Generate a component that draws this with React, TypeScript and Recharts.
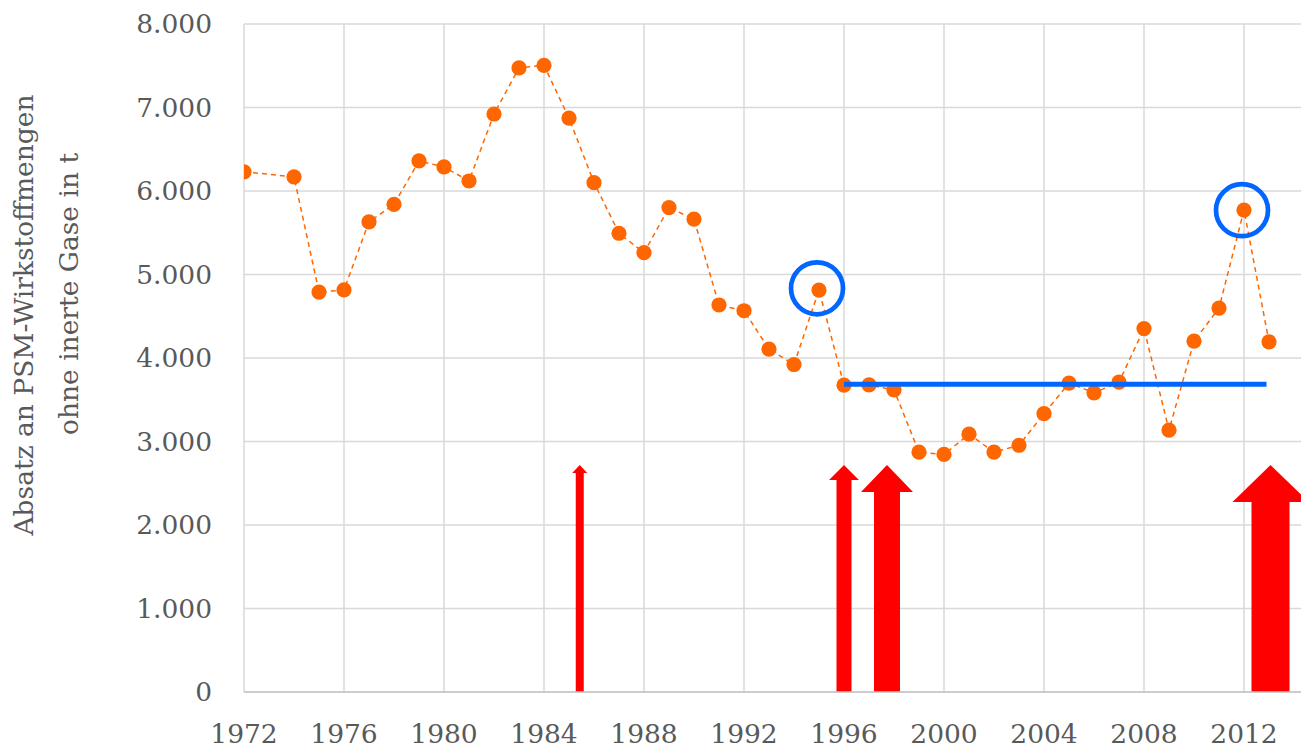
import React from 'react';
import { LineChart, Line, XAxis, YAxis, CartesianGrid, ReferenceLine, ReferenceDot } from 'recharts';

// Absatz an PSM-Wirkstoffmengen (t), 1973 fehlt
const years = [
  1972, 1974, 1975, 1976, 1977, 1978, 1979, 1980, 1981, 1982, 1983, 1984, 1985, 1986,
  1987, 1988, 1989, 1990, 1991, 1992, 1993, 1994, 1995, 1996, 1997, 1998, 1999, 2000,
  2001, 2002, 2003, 2004, 2005, 2006, 2007, 2008, 2009, 2010, 2011, 2012, 2013,
];
const amounts = [
  6230, 6170, 4790, 4815, 5630, 5840, 6360, 6288, 6120, 6922, 7475, 7505, 6872, 6100,
  5494, 5261, 5802, 5662, 4635, 4566, 4106, 3922, 4814, 3675, 3678, 3617, 2872, 2845,
  3088, 2872, 2955, 3333, 3699, 3583, 3711, 4352, 3136, 4202, 4597, 5772, 4194,
];

const xTicks = [1972, 1976, 1980, 1984, 1988, 1992, 1996, 2000, 2004, 2008, 2012];
const yTicks = [0, 1000, 2000, 3000, 4000, 5000, 6000, 7000, 8000];

// Markierungen
const circleYears = [1994.92, 2011.92];
const circleValues = [4835, 5770];
const levelStart = 1996;
const levelEnd = 2012.9;
const levelValue = 3686;

const arrowYears = [1985.43, 1996, 1997.72, 2013.06];
const arrowTops = [2720, 2720, 2720, 2720];
// shaft / head width and head length in px
const arrowSizes = [
  { shaft: 8, head: 15, len: 8 },
  { shaft: 15, head: 30, len: 15 },
  { shaft: 26, head: 52, len: 27 },
  { shaft: 38, head: 76, len: 37 },
];

const data = years.map((year, i) => ({ year, value: amounts[i] }));

const ORANGE = '#FF6600';
const BLUE = '#0066FF';
const RED = '#FF0000';
const FONT = '"DejaVu Serif", serif';

const fmt = (v: number) => String(v).replace(/\B(?=(\d{3})+(?!\d))/g, '.');

const Arrow = (props: any) => {
  const { x1, y1, y2, shaft, head, len } = props;
  const bottom = Math.max(y1, y2);
  const top = Math.min(y1, y2);
  const neck = top + len;
  const pts = [
    [x1 - shaft / 2, bottom],
    [x1 - shaft / 2, neck],
    [x1 - head / 2, neck],
    [x1, top],
    [x1 + head / 2, neck],
    [x1 + shaft / 2, neck],
    [x1 + shaft / 2, bottom],
  ];
  return <polygon points={pts.map((p) => p.join(',')).join(' ')} fill={RED} />;
};

const AxisTitle = () => (
  <g fontFamily={FONT} fontSize={26.5} fill="#595959">
    <text transform="translate(33, 315) rotate(-90)" textAnchor="middle">
      Absatz an PSM-Wirkstoffmengen
    </text>
    <text transform="translate(78, 294) rotate(-90)" textAnchor="middle">
      ohne inerte Gase in t
    </text>
  </g>
);

const App: React.FC = () => {
  return (
    <div style={{ position: 'absolute', left: 0, top: 0, width: 1301, height: 749, background: '#fff' }}>
      <LineChart width={1301} height={749} data={data} margin={{ top: 24, right: 0, bottom: 0, left: 0 }}>
        <CartesianGrid stroke="#d9d9d9" strokeWidth={1.5} verticalValues={xTicks} horizontalValues={yTicks} />
        <XAxis
          dataKey="year"
          type="number"
          domain={[1972, 2014.28]}
          ticks={xTicks}
          allowDataOverflow
          height={57}
          tickSize={0}
          tickMargin={32}
          axisLine={{ stroke: '#c4c4c4', strokeWidth: 1.5 }}
          tick={{ fill: '#595959', fontSize: 26.5, fontFamily: FONT }}
        />
        <YAxis
          type="number"
          domain={[0, 8000]}
          ticks={yTicks}
          width={244}
          tickSize={0}
          tickMargin={32}
          axisLine={false}
          tickFormatter={fmt}
          tick={{ fill: '#595959', fontSize: 26.5, fontFamily: FONT }}
          label={{ content: () => <AxisTitle /> }}
        />
        {arrowYears.map((yr, i) => (
          <ReferenceLine
            key={'a' + i}
            segment={[{ x: yr, y: 0 }, { x: yr, y: arrowTops[i] }]}
            shape={(p: any) => <Arrow {...p} {...arrowSizes[i]} />}
          />
        ))}
        <Line
          type="linear"
          dataKey="value"
          stroke={ORANGE}
          strokeWidth={1.5}
          strokeDasharray="5 4"
          dot={{ r: 7.6, fill: ORANGE, stroke: 'none' }}
          isAnimationActive={false}
        />
        <ReferenceLine
          segment={[{ x: levelStart, y: levelValue }, { x: levelEnd, y: levelValue }]}
          stroke={BLUE}
          strokeWidth={5}
          zIndex={1000}
        />
        {circleYears.map((yr, i) => (
          <ReferenceDot
            key={'c' + i}
            x={yr}
            y={circleValues[i]}
            r={26}
            fill="none"
            stroke={BLUE}
            strokeWidth={4.7}
            zIndex={1000}
          />
        ))}
      </LineChart>
    </div>
  );
};

export default App;
